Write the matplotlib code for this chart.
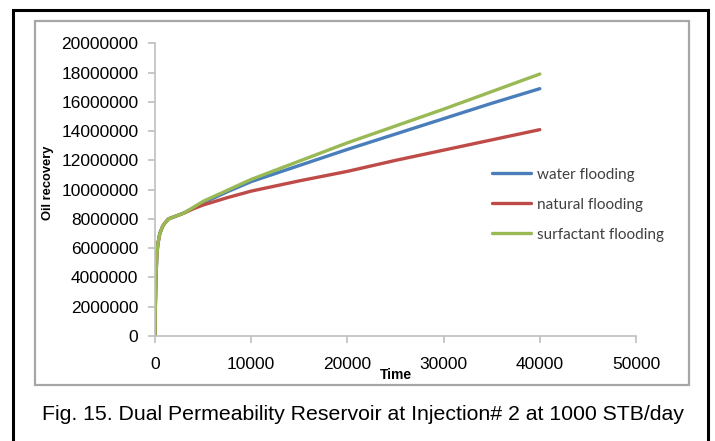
import matplotlib
matplotlib.use("Agg")
import matplotlib.pyplot as plt
from matplotlib.patches import Rectangle
from matplotlib.ticker import FuncFormatter

time = [0, 20, 50, 100, 200, 300, 500, 800, 1000, 1400, 2000, 3000,
        4000, 5000, 7500, 10000, 15000, 20000, 25000, 30000, 35000, 40000]
early = [0, 1.5e6, 2.5e6, 4.0e6, 5.6e6, 6.3e6, 7.0e6, 7.5e6, 7.7e6, 8.0e6, 8.15e6, 8.4e6]
water = early + [8.75e6, 9.1e6, 9.85e6, 10.55e6, 11.65e6, 12.75e6, 13.8e6, 14.85e6, 15.9e6, 16.9e6]
natural = early + [8.7e6, 8.95e6, 9.45e6, 9.9e6, 10.6e6, 11.25e6, 12.0e6, 12.7e6, 13.4e6, 14.1e6]
surfactant = early + [8.8e6, 9.2e6, 9.95e6, 10.7e6, 11.95e6, 13.2e6, 14.35e6, 15.5e6, 16.7e6, 17.9e6]
series_names = ["water flooding", "natural flooding", "surfactant flooding"]
colors = ["#4a7ebb", "#be4b48", "#98b954"]
xticks = [0, 10000, 20000, 30000, 40000, 50000]
yticks = list(range(0, 20000001, 2000000))

W, H = 715, 441
fig = plt.figure(figsize=(W / 100, H / 100), dpi=100)

def fx(px):
    return px / W

def fy(py):
    return 1 - py / H

# frames
fig.add_artist(Rectangle((fx(13), fy(445)), fx(708) - fx(13), fy(10) - fy(445),
                         transform=fig.transFigure, fill=False, lw=2.2, ec="black"))
fig.add_artist(Rectangle((fx(35), fy(385)), fx(689) - fx(35), fy(21) - fy(385),
                         transform=fig.transFigure, fill=False, lw=1.6, ec="#a6a6a6"))

left, right, top, bottom = 155, 636, 43.3, 336
ax = fig.add_axes([fx(left), fy(bottom), fx(right) - fx(left), fy(top) - fy(bottom)])

for vals, name, c in zip([water, natural, surfactant], series_names, colors):
    ax.plot(time, vals, color=c, lw=2.4, label=name, solid_capstyle="round")

ax.set_xlim(0, 50000)
ax.set_ylim(0, 20000000)
ax.set_xticks(xticks)
ax.set_yticks(yticks)
ax.yaxis.set_major_formatter(FuncFormatter(lambda v, p: f"{int(v)}"))
ax.xaxis.set_major_formatter(FuncFormatter(lambda v, p: f"{int(v)}"))
for s in ["top", "right"]:
    ax.spines[s].set_visible(False)
for s in ["left", "bottom"]:
    ax.spines[s].set_color("#bfbfbf")
    ax.spines[s].set_linewidth(1.2)
ax.tick_params(axis="both", colors="#bfbfbf", length=5, width=1.2,
               labelcolor="black", labelsize=12.5)
ax.tick_params(axis="y", pad=7)
ax.tick_params(axis="x", pad=10)
for lab in ax.get_xticklabels() + ax.get_yticklabels():
    lab.set_fontfamily("Liberation Sans")

fig.text(fx(48), fy(183), "Oil recovery", rotation=90, ha="center", va="center",
         fontsize=9.3, fontweight="bold", family="Liberation Sans")
fig.text(fx(396), fy(375), "Time", ha="center", va="center",
         fontsize=10, fontweight="bold", family="Liberation Sans")

leg = ax.legend(loc="upper left", bbox_to_anchor=(fx(484), fy(160)),
                bbox_transform=fig.transFigure, frameon=False,
                prop={"family": "Lato", "size": 11}, handlelength=2.6,
                handletextpad=0.35, labelspacing=1.05, borderpad=0)
for t in leg.get_texts():
    t.set_color("#404040")

fig.text(fx(363), fy(415), "Fig. 15. Dual Permeability Reservoir at Injection# 2 at 1000 STB/day",
         ha="center", va="center", fontsize=15.3, family="Liberation Sans")

fig.savefig("out.png", dpi=100)
